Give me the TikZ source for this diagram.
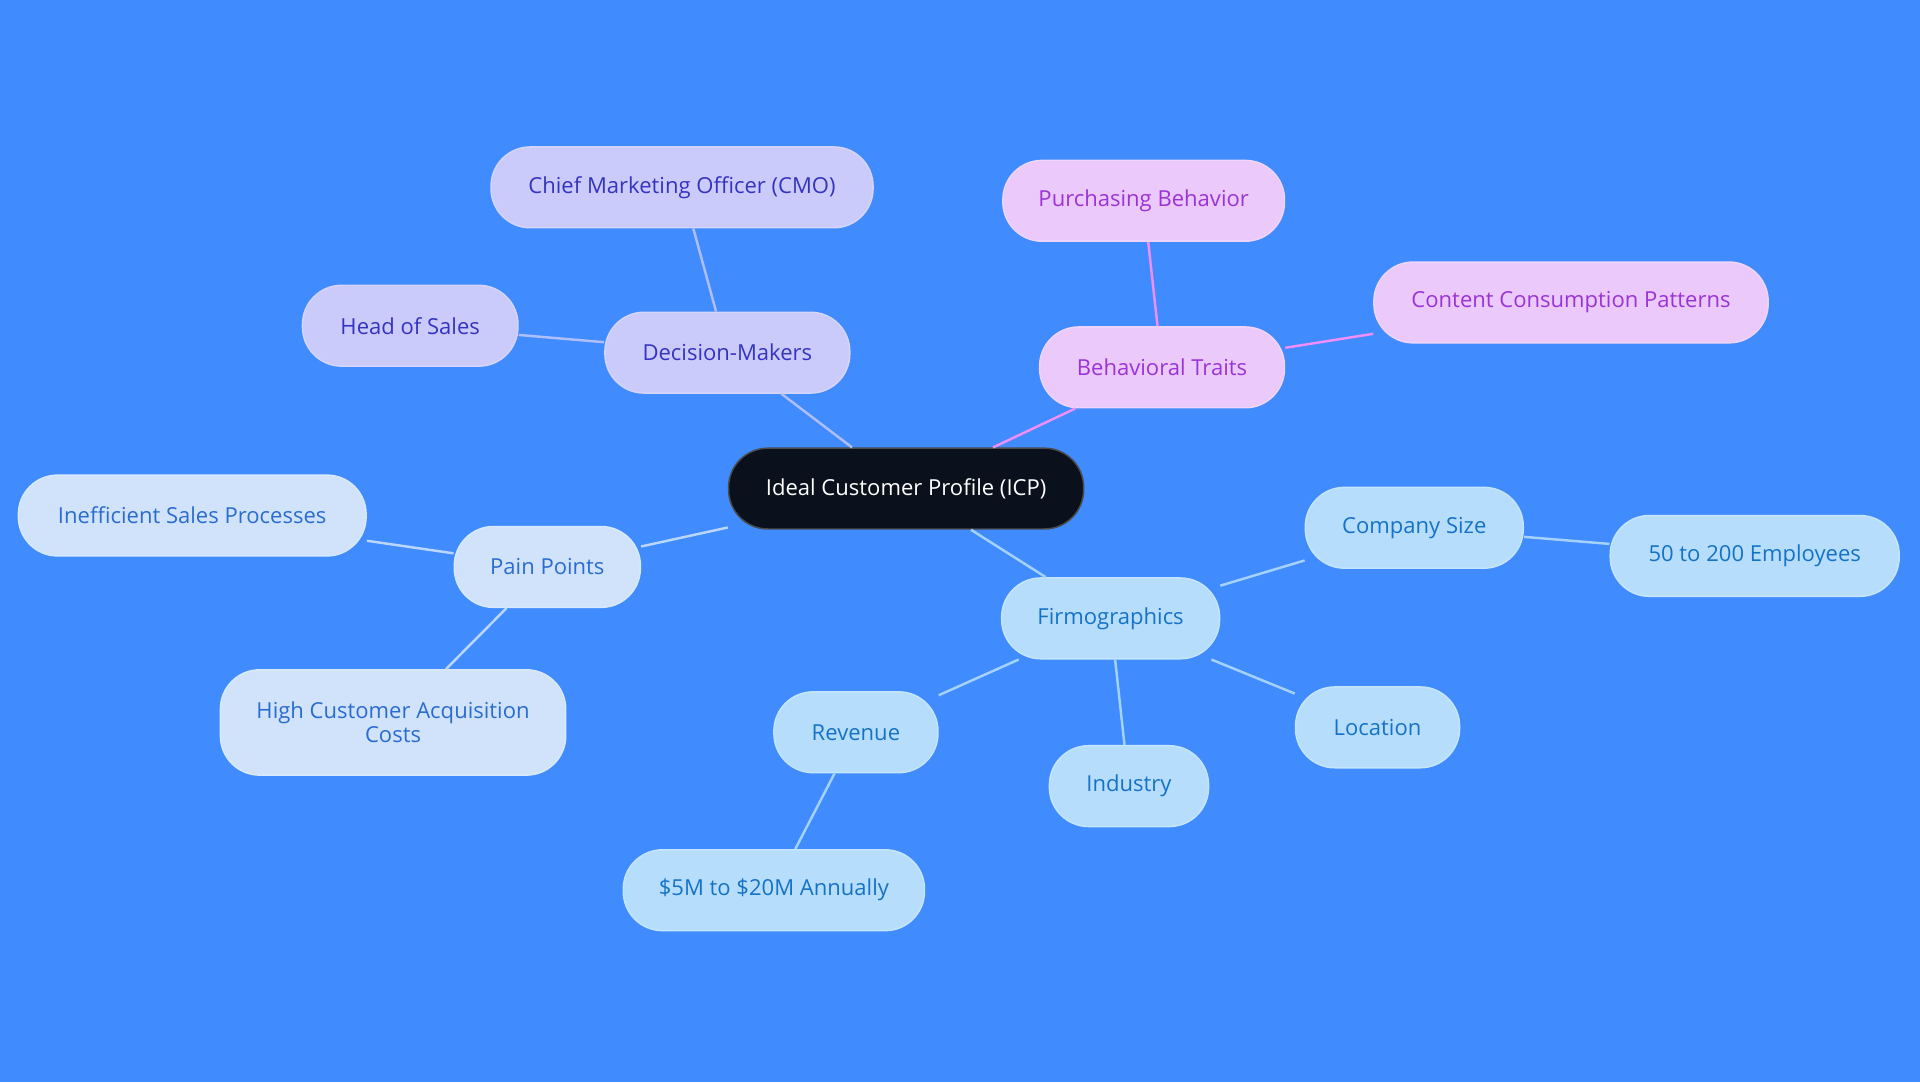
\documentclass[tikz,border=0pt]{standalone}
\usepackage{fontspec}
\setmainfont{Open Sans}
\definecolor{bg}{HTML}{408CFF}
\definecolor{dmf}{HTML}{CBCBFB}\definecolor{dmt}{HTML}{3434C0}
\definecolor{btf}{HTML}{EBC9FB}\definecolor{btt}{HTML}{9A34D6}
\definecolor{ppf}{HTML}{D0E3FB}\definecolor{ppt}{HTML}{2B6CD0}
\definecolor{fmf}{HTML}{B6DEFC}\definecolor{fmt}{HTML}{1672C6}
\definecolor{ctr}{HTML}{0B111C}
\begin{document}
\begin{tikzpicture}[x=0.5pt,y=-0.5pt,
  box/.style={rounded corners=16pt,draw,line width=0.6pt,minimum height=33pt,font=\fontsize{9}{10}\selectfont,align=center,inner sep=0pt},
  dm/.style={box,fill=dmf,draw=dmf!80!white,text=dmt},
  bt/.style={box,fill=btf,draw=btf!80!white,text=btt},
  pp/.style={box,fill=ppf,draw=ppf!80!white,text=ppt},
  fm/.style={box,fill=fmf,draw=fmf!80!white,text=fmt},
  ln/.style={line width=1pt}]
\fill[bg] (0,0) rectangle (1568,884);
\useasboundingbox (0,0) rectangle (1568,884);
\node[box,fill=ctr,draw=gray!60!black,text=white,minimum width=145pt] (icp) at (740,399) {Ideal Customer Profile (ICP)};
\node[dm,minimum width=100pt] (dm) at (594,288) {Decision-Makers};
\node[dm,minimum width=156pt] (cmo) at (557,153) {Chief Marketing Officer (CMO)};
\node[dm,minimum width=88pt] (hs) at (335,266) {Head of Sales};
\node[bt,minimum width=100pt] (bt) at (949,300) {Behavioral Traits};
\node[bt,minimum width=115pt] (pb) at (934,164) {Purchasing Behavior};
\node[bt,minimum width=161pt] (cc) at (1283,247) {Content Consumption Patterns};
\node[pp,minimum width=76pt] (pp) at (447,463) {Pain Points};
\node[pp,minimum width=142pt] (is) at (157,421) {Inefficient Sales Processes};
\node[pp,minimum width=141pt,minimum height=43pt] (hc) at (321,590) {High Customer Acquisition\\Costs};
\node[fm,minimum width=89pt] (fm) at (907,505) {Firmographics};
\node[fm,minimum width=89pt] (cs) at (1155,431) {Company Size};
\node[fm,minimum width=118pt] (em) at (1433,454) {50 to 200 Employees};
\node[fm,minimum width=67pt] (lo) at (1125,594) {Location};
\node[fm,minimum width=65pt] (in) at (922,642) {Industry};
\node[fm,minimum width=67pt] (rv) at (699,598) {Revenue};
\node[fm,minimum width=123pt] (mm) at (632,727) {\$5M to \$20M Annually};
\begin{scope}[on background layer/.code={}]
\end{scope}
\begin{pgfinterruptboundingbox}\end{pgfinterruptboundingbox}
\draw[ln,draw=dmf!80!bg] (icp) -- (dm); \draw[ln,draw=dmf!80!bg] (dm) -- (cmo); \draw[ln,draw=dmf!80!bg] (dm) -- (hs);
\draw[ln,draw=btf!70!magenta] (icp) -- (bt); \draw[ln,draw=btf!70!magenta] (bt) -- (pb); \draw[ln,draw=btf!70!magenta] (bt) -- (cc);
\draw[ln,draw=ppf!85!bg] (icp) -- (pp); \draw[ln,draw=ppf!85!bg] (pp) -- (is); \draw[ln,draw=ppf!85!bg] (pp) -- (hc);
\draw[ln,draw=fmf!85!bg] (icp) -- (fm); \draw[ln,draw=fmf!85!bg] (fm) -- (cs); \draw[ln,draw=fmf!85!bg] (cs) -- (em);
\draw[ln,draw=fmf!85!bg] (fm) -- (lo); \draw[ln,draw=fmf!85!bg] (fm) -- (in); \draw[ln,draw=fmf!85!bg] (fm) -- (rv); \draw[ln,draw=fmf!85!bg] (rv) -- (mm);
\end{tikzpicture}
\end{document}
